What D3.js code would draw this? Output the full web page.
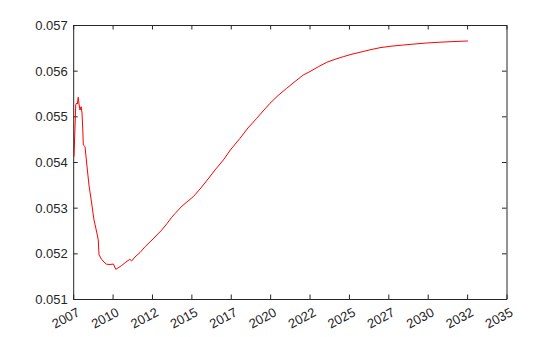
<!DOCTYPE html>
<html>
<head>
<meta charset="utf-8">
<script src="https://cdn.jsdelivr.net/npm/d3@7"></script>
<style>
  html, body { margin: 0; padding: 0; background: #fff; }
  svg { display: block; }
</style>
</head>
<body>
<svg id="chart" width="560" height="337"></svg>
<script>
const years = [
  2007.55, 2007.63, 2007.66, 2007.71, 2007.76, 2007.82, 2007.87, 2007.93, 2008.00, 2008.06,
  2008.11, 2008.14, 2008.25, 2008.36, 2008.50, 2008.67, 2008.82, 2008.99, 2009.09, 2009.14,
  2009.31, 2009.45, 2009.63, 2009.84, 2010.05, 2010.20, 2010.34, 2010.58, 2010.85, 2011.10,
  2011.21, 2011.42, 2011.74, 2012.06, 2012.37, 2012.69, 2013.12, 2013.45, 2013.75, 2013.96,
  2014.41, 2015.12, 2015.55, 2016.06, 2016.50, 2017.03, 2017.52, 2018.09, 2018.59, 2019.15,
  2019.55, 2019.99, 2020.50, 2021.05, 2021.58, 2022.10, 2022.53, 2023.06, 2023.59, 2024.12,
  2024.64, 2025.13, 2025.70, 2026.34, 2026.97, 2027.67, 2028.45, 2029.19, 2029.94, 2030.65,
  2031.41, 2032.05, 2032.55
];
const rates = [
  0.054116, 0.054920, 0.055248, 0.055292, 0.055270, 0.055417, 0.055270, 0.055139, 0.055211, 0.055073,
  0.054701, 0.054372, 0.054335, 0.053956, 0.053496, 0.053102, 0.052730, 0.052467, 0.052292, 0.051964,
  0.051865, 0.051810, 0.051760, 0.051756, 0.051766, 0.051650, 0.051679, 0.051734, 0.051810, 0.051869,
  0.051832, 0.051920, 0.052018, 0.052145, 0.052248, 0.052358, 0.052511, 0.052650, 0.052790, 0.052870,
  0.053036, 0.053240, 0.053409, 0.053628, 0.053825, 0.054044, 0.054285, 0.054519, 0.054745, 0.054957,
  0.055117, 0.055285, 0.055456, 0.055614, 0.055763, 0.055905, 0.055982, 0.056087, 0.056183, 0.056249,
  0.056306, 0.056356, 0.056402, 0.056457, 0.056503, 0.056536, 0.056562, 0.056584, 0.056606, 0.056621,
  0.056634, 0.056643, 0.056650
];
const xTicks = [2007.5, 2010, 2012.5, 2015, 2017.5, 2020, 2022.5, 2025, 2027.5, 2030, 2032.5, 2035];
const xTickLabels = ["2007", "2010", "2012", "2015", "2017", "2020", "2022", "2025", "2027", "2030", "2032", "2035"];
const yTicks = [0.051, 0.052, 0.053, 0.054, 0.055, 0.056, 0.057];

const svg = d3.select("#chart");
const L = 73.2, R = 506.5, T = 25, B = 299;
const axisColor = "#262626";
const font = "'Liberation Sans', Arial, Helvetica, sans-serif";

svg.append("rect").attr("x", 0).attr("y", 0).attr("width", 560).attr("height", 337).attr("fill", "#fff");

const x = d3.scaleLinear().domain([2007.5, 2035]).range([L, R]);
const y = d3.scaleLinear().domain([0.051, 0.057]).range([B, T]);

const tickLen = 4.5;

const gB = svg.append("g").attr("transform", `translate(0,${B})`)
  .call(d3.axisBottom(x).tickValues(xTicks).tickSizeInner(-tickLen).tickSizeOuter(0).tickFormat(""));
const gT = svg.append("g").attr("transform", `translate(0,${T})`)
  .call(d3.axisTop(x).tickValues(xTicks).tickSizeInner(-tickLen).tickSizeOuter(0).tickFormat(""));
const gL = svg.append("g").attr("transform", `translate(${L},0)`)
  .call(d3.axisLeft(y).tickValues(yTicks).tickSizeInner(-tickLen).tickSizeOuter(0).tickFormat(d3.format(".3f")));
const gR = svg.append("g").attr("transform", `translate(${R},0)`)
  .call(d3.axisRight(y).tickValues(yTicks).tickSizeInner(-tickLen).tickSizeOuter(0).tickFormat(""));

[gB, gT, gL, gR].forEach(g => {
  g.selectAll(".domain").attr("stroke", axisColor).attr("stroke-width", 1);
  g.selectAll(".tick line").attr("stroke", axisColor).attr("stroke-width", 1);
});

gL.selectAll(".tick text")
  .attr("x", -5.5)
  .attr("dy", "0.35em")
  .attr("fill", axisColor)
  .style("font-family", font)
  .style("font-size", "13px");

svg.append("g").selectAll("text")
  .data(xTicks)
  .join("text")
  .attr("transform", d => `translate(${x(d) + 3},${B + 8}) rotate(-28)`)
  .attr("text-anchor", "end")
  .attr("dy", "0.71em")
  .attr("fill", axisColor)
  .style("font-family", font)
  .style("font-size", "13px")
  .text((d, i) => xTickLabels[i]);

const line = d3.line().x((d, i) => x(years[i])).y(d => y(d));
svg.append("path")
  .datum(rates)
  .attr("d", line)
  .attr("fill", "none")
  .attr("stroke", "#ff0000")
  .attr("stroke-width", 1)
  .attr("stroke-linejoin", "round");
</script>
</body>
</html>
